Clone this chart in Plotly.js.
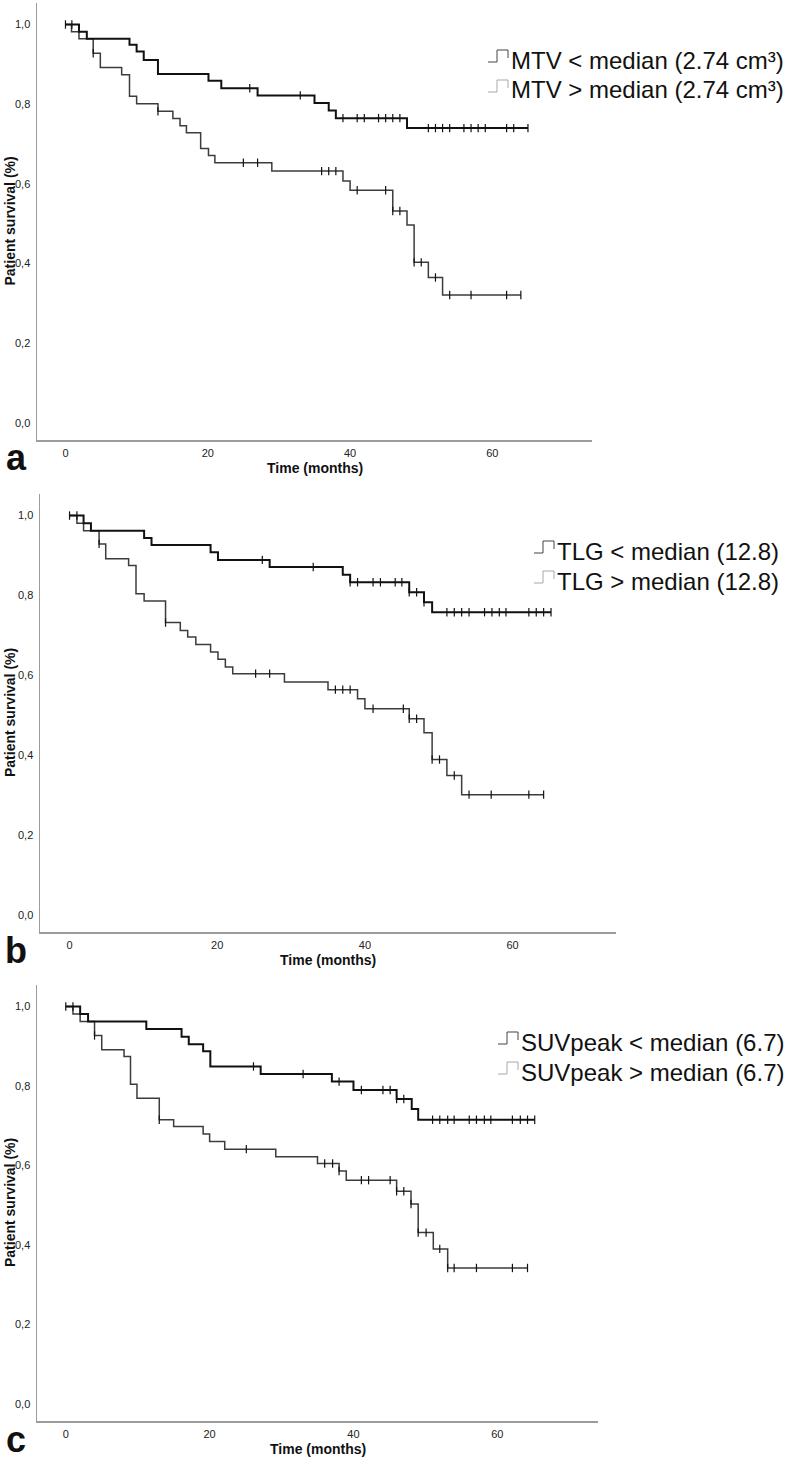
<!DOCTYPE html>
<html>
<head>
<meta charset="utf-8">
<script src="https://cdn.plot.ly/plotly-3.0.1.min.js"></script>
<style>
  html, body { margin: 0; padding: 0; background: #fff; }
  #chart { width: 787px; height: 1463px; }
</style>
</head>
<body>
<div id="chart"></div>
<script>
// Kaplan-Meier curves: drop times (months), survival after each drop, censored times

// panel a - MTV
const aLowT = [1.9, 3.0, 9.0, 10.0, 11.0, 13.0, 20.1, 21.9, 27.0, 35.0, 37.0, 38.0, 48.0];
const aLowS = [0.982, 0.964, 0.949, 0.932, 0.911, 0.876, 0.859, 0.840, 0.822, 0.803, 0.784, 0.765, 0.740];
const aLowC = [0, 0.9, 25.9, 33.0, 39, 41, 42, 44, 45, 46, 47, 51, 52, 53, 54, 56, 57, 58, 59, 62, 63, 65];
const aHighT = [0.85, 1.9, 3.9, 4.9, 7.9, 9.0, 10.0, 13.0, 15.1, 16.1, 17.0, 19.0, 20.1, 21.0, 29.0, 39.0, 40.0, 46.0, 48.0, 49.0, 51.0, 53.0];
const aHighS = [0.982, 0.964, 0.928, 0.892, 0.874, 0.820, 0.801, 0.782, 0.764, 0.746, 0.728, 0.689, 0.671, 0.653, 0.632, 0.607, 0.584, 0.532, 0.497, 0.403, 0.365, 0.321];
const aHighC = [3.9, 13.0, 25.0, 27.0, 36.0, 37.0, 38.0, 41.0, 45.0, 46.0, 47.0, 49.0, 50.0, 52.0, 54.0, 57.0, 62.0, 64.0];

// panel b - TLG
const bLowT = [1.9, 2.9, 10.1, 11.1, 19.1, 20.1, 27.1, 37.0, 38.0, 46.0, 48.0, 49.1];
const bLowS = [0.981, 0.962, 0.944, 0.926, 0.908, 0.889, 0.871, 0.852, 0.833, 0.808, 0.783, 0.758];
const bLowC = [0, 1.0, 26.1, 33.0, 38.0, 39.0, 41.1, 42.1, 44.1, 45.0, 46.0, 47.0, 48.0, 51.1, 52.1, 53.1, 54.1, 56.2, 57.2, 58.2, 59.1, 62.2, 63.2, 64.2, 65.2];
const bHighT = [1.0, 1.9, 4.0, 4.9, 8.0, 9.0, 10.1, 13.0, 15.0, 16.0, 17.1, 19.1, 20.1, 21.1, 22.1, 29.1, 35.0, 39.0, 40.0, 46.0, 48.0, 49.1, 51.1, 53.1];
const bHighS = [0.981, 0.962, 0.929, 0.892, 0.875, 0.804, 0.786, 0.732, 0.712, 0.696, 0.677, 0.658, 0.640, 0.621, 0.604, 0.583, 0.564, 0.541, 0.516, 0.491, 0.456, 0.389, 0.349, 0.301];
const bHighC = [4.0, 13.0, 25.2, 27.1, 36.0, 37.0, 38.0, 41.1, 45.2, 46.0, 47.0, 49.1, 50.1, 52.1, 54.1, 57.1, 62.2, 64.2];

// panel c - SUVpeak
const cLowT = [2.0, 3.1, 11.2, 16.1, 17.1, 19.1, 20.1, 27.1, 37.0, 40.0, 46.0, 48.1, 49.0];
const cLowS = [0.981, 0.962, 0.943, 0.924, 0.905, 0.887, 0.849, 0.830, 0.811, 0.790, 0.767, 0.742, 0.715];
const cLowC = [0, 1.0, 26.1, 33.0, 38.0, 41.1, 44.1, 45.1, 46.0, 47.0, 51.0, 52.0, 53.1, 54.0, 56.1, 57.1, 58.2, 59.1, 62.1, 63.2, 64.2, 65.2];
const cHighT = [1.0, 2.0, 4.0, 5.0, 8.1, 9.0, 9.9, 13.0, 15.0, 19.1, 20.0, 22.1, 29.2, 35.0, 38.0, 39.0, 46.0, 48.0, 49.0, 51.1, 53.1];
const cHighS = [0.981, 0.962, 0.927, 0.891, 0.874, 0.804, 0.769, 0.715, 0.698, 0.679, 0.660, 0.641, 0.622, 0.605, 0.586, 0.563, 0.535, 0.503, 0.431, 0.390, 0.342];
const cHighC = [4.0, 13.0, 25.1, 36.0, 37.1, 38.0, 41.1, 42.1, 45.1, 46.0, 47.0, 48.0, 49.0, 50.1, 52.0, 53.1, 54.0, 57.1, 62.1, 64.2];

const legendA = ["MTV < median (2.74 cm³)", "MTV > median (2.74 cm³)"];
const legendB = ["TLG < median (12.8)", "TLG > median (12.8)"];
const legendC = ["SUVpeak < median (6.7)", "SUVpeak > median (6.7)"];
const panelLetters = ["a", "b", "c"];

const xTicks = [0, 20, 40, 60];
const yTicks = [0, 0.2, 0.4, 0.6, 0.8, 1.0];

const W = 787, H = 1463;
const FONT = "Liberation Sans, Arial, sans-serif";
const px = v => v / W;
const py = v => 1 - v / H;

// pixel boxes of the three plot areas, and legend placement
const boxes = [
  { l: 37, r: 592, t: 3, b: 440, legX: 488, legY: 60 },
  { l: 40, r: 616, t: 494, b: 932, legX: 534, legY: 551 },
  { l: 37, r: 598, t: 985, b: 1421, legX: 498, legY: 1042 }
];

const series = [
  { low: [aLowT, aLowS, aLowC], high: [aHighT, aHighS, aHighC], legend: legendA },
  { low: [bLowT, bLowS, bLowC], high: [bHighT, bHighS, bHighC], legend: legendB },
  { low: [cLowT, cLowS, cLowC], high: [cHighT, cHighS, cHighC], legend: legendC }
];

function survAt(times, surv, t) {
  let s = 1;
  for (let i = 0; i < times.length; i++) {
    if (times[i] <= t) s = surv[i];
  }
  return s;
}

function stepTraces(times, surv, cens, xa, ya, lineStyle) {
  const end = Math.max(...cens, ...times);
  const x = [0, ...times, end];
  const y = [1, ...surv, surv[surv.length - 1]];
  return [
    {
      x, y, xaxis: xa, yaxis: ya, mode: "lines", line: Object.assign({ shape: "hv" }, lineStyle),
      hoverinfo: "skip", showlegend: false
    },
    {
      x: cens, y: cens.map(t => survAt(times, surv, t)), xaxis: xa, yaxis: ya, mode: "markers",
      marker: { symbol: "line-ns-open", size: 6, color: "#111", line: { width: 1.2, color: "#111" } },
      hoverinfo: "skip", showlegend: false
    }
  ];
}

const traces = [];
const annotations = [];
const shapes = [];
const layout = {
  width: W, height: H,
  margin: { l: 0, r: 0, t: 0, b: 0 },
  paper_bgcolor: "#fff", plot_bgcolor: "#fff",
  separators: ",.",
  showlegend: false,
  font: { family: FONT, color: "#222" }
};

series.forEach((s, i) => {
  const bx = boxes[i];
  const n = i === 0 ? "" : String(i + 1);
  const xa = "x" + n, ya = "y" + n;

  traces.push(...stepTraces(s.high[0], s.high[1], s.high[2], xa, ya, { color: "#3c3c3c", width: 1.5 }));
  traces.push(...stepTraces(s.low[0], s.low[1], s.low[2], xa, ya, { color: "#111", width: 2 }));

  layout["xaxis" + n] = {
    domain: [px(bx.l), px(bx.r)], anchor: ya, range: [-4, 74],
    showgrid: false, zeroline: false, showline: true, linecolor: "#9c9c9c", linewidth: 1.5,
    ticks: "", tickvals: xTicks, ticklabelstandoff: 2,
    tickfont: { size: 11, color: "#222", family: FONT }
  };
  layout["yaxis" + n] = {
    domain: [py(bx.b), py(bx.t)], anchor: xa, range: [-0.043, 1.054],
    showgrid: false, zeroline: false, showline: true, linecolor: "#9c9c9c", linewidth: 1.5,
    ticks: "", tickvals: yTicks, tickformat: ".1f", ticklabelstandoff: 3,
    tickfont: { size: 11, color: "#222", family: FONT }
  };

  // axis titles
  annotations.push({
    xref: "paper", yref: "paper", x: px((bx.l + bx.r) / 2), y: py(bx.b + 28),
    xanchor: "center", yanchor: "middle", showarrow: false,
    text: "Time (months)", font: { size: 14, weight: "bold", color: "#111", family: FONT }
  });
  annotations.push({
    xref: "paper", yref: "paper", x: px(10), y: py((bx.t + bx.b) / 2),
    xanchor: "center", yanchor: "middle", showarrow: false, textangle: -90,
    text: "Patient survival (%)", font: { size: 14, weight: "bold", color: "#111", family: FONT }
  });
  // panel letter
  annotations.push({
    xref: "paper", yref: "paper", x: px(16), y: py(bx.b + 18),
    xanchor: "center", yanchor: "middle", showarrow: false,
    text: panelLetters[i], font: { size: 36, weight: "bold", color: "#111", family: FONT }
  });

  // legend: step glyph + label
  s.legend.forEach((label, k) => {
    const yc = bx.legY + k * 30;
    const x0 = bx.legX, yb = yc + 2, yt = yc - 10;
    const d = `M${px(x0)},${py(yb)} L${px(x0 + 9)},${py(yb)} L${px(x0 + 9)},${py(yt)} L${px(x0 + 20)},${py(yt)} L${px(x0 + 20)},${py(yt + 8)}`;
    shapes.push({
      type: "path", xref: "paper", yref: "paper", path: d,
      line: { color: k === 0 ? "#444" : "#a8a8a8", width: 1 }
    });
    annotations.push({
      xref: "paper", yref: "paper", x: px(x0 + 21), y: py(yc),
      xanchor: "left", yanchor: "middle", showarrow: false,
      text: label, font: { size: 24, color: "#111", family: FONT }
    });
  });
});

layout.annotations = annotations;
layout.shapes = shapes;

Plotly.newPlot("chart", traces, layout, { displayModeBar: false, staticPlot: true });
</script>
</body>
</html>
